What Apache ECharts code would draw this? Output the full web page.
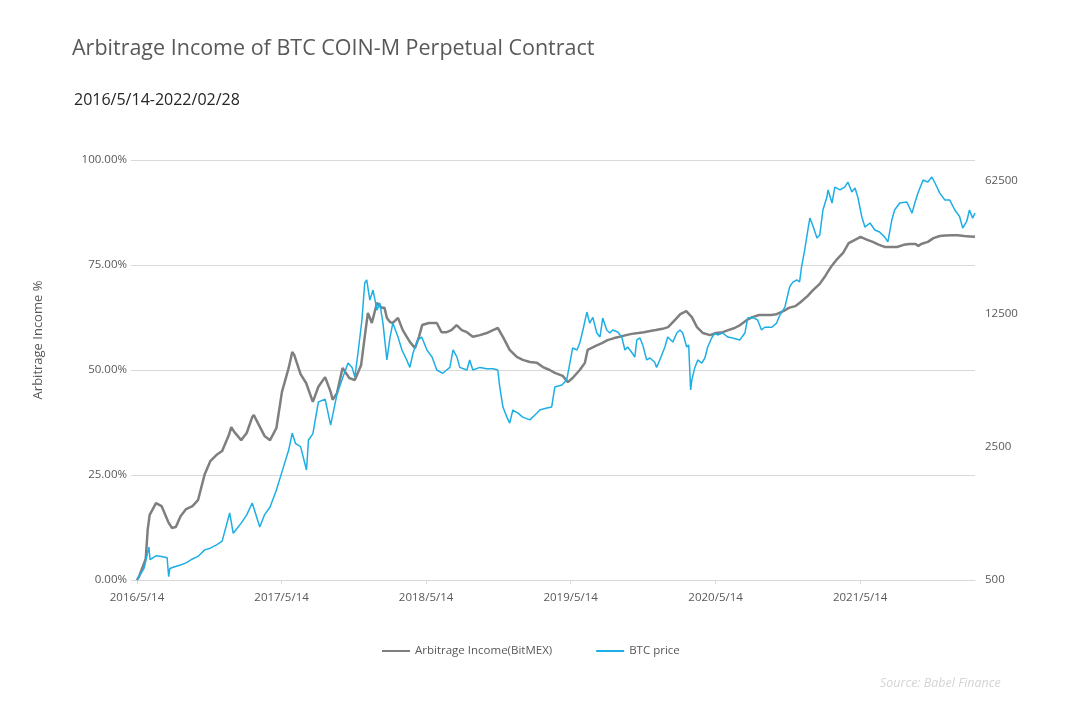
<!DOCTYPE html>
<html>
<head>
<meta charset="utf-8">
<script src="https://cdn.jsdelivr.net/npm/echarts@6/dist/echarts.min.js"></script>
<style>html,body{margin:0;padding:0;background:#fff}#c{width:1065px;height:703px}</style>
</head>
<body>
<div id="c"></div>
<script>
// ---- Data ----
const incomeDates = ['2016-05-14','2016-05-20','2016-06-05','2016-06-10','2016-06-15','2016-07-01','2016-07-15','2016-08-01','2016-08-10','2016-08-20','2016-09-01','2016-09-15','2016-10-01','2016-10-15','2016-11-01','2016-11-15','2016-12-01','2016-12-15','2017-01-01','2017-01-07','2017-01-15','2017-02-01','2017-02-15','2017-03-01','2017-03-05','2017-03-15','2017-04-01','2017-04-15','2017-05-01','2017-05-15','2017-06-01','2017-06-10','2017-06-15','2017-07-01','2017-07-15','2017-08-01','2017-08-15','2017-09-01','2017-09-15','2017-09-20','2017-10-01','2017-10-15','2017-11-01','2017-11-15','2017-12-01','2017-12-10','2017-12-18','2017-12-28','2018-01-10','2018-01-22','2018-01-29','2018-02-04','2018-02-12','2018-02-19','2018-03-04','2018-03-16','2018-04-03','2018-04-16','2018-04-26','2018-05-04','2018-05-21','2018-06-10','2018-06-22','2018-07-05','2018-07-17','2018-07-30','2018-08-12','2018-08-25','2018-09-09','2018-09-27','2018-10-14','2018-10-30','2018-11-11','2018-11-24','2018-12-11','2018-12-29','2019-01-13','2019-01-31','2019-02-18','2019-03-05','2019-03-22','2019-04-04','2019-04-24','2019-05-07','2019-05-19','2019-06-06','2019-06-19','2019-06-26','2019-07-01','2019-07-15','2019-08-01','2019-08-15','2019-09-01','2019-09-15','2019-10-01','2019-10-15','2019-11-01','2019-11-15','2019-12-01','2019-12-15','2020-01-01','2020-01-15','2020-02-01','2020-02-15','2020-03-01','2020-03-05','2020-03-15','2020-03-28','2020-04-12','2020-04-30','2020-05-15','2020-06-01','2020-06-15','2020-07-01','2020-07-15','2020-08-01','2020-08-15','2020-09-01','2020-09-15','2020-10-01','2020-10-15','2020-11-01','2020-11-15','2020-12-01','2020-12-15','2021-01-01','2021-01-15','2021-02-01','2021-02-15','2021-03-01','2021-03-15','2021-04-01','2021-04-15','2021-05-01','2021-05-15','2021-06-01','2021-06-15','2021-07-01','2021-07-15','2021-08-01','2021-08-15','2021-09-01','2021-09-15','2021-10-01','2021-10-08','2021-10-15','2021-11-01','2021-11-15','2021-12-01','2021-12-15','2022-01-01','2022-01-15','2022-02-01','2022-02-15','2022-02-28'];
const incomeValues = [0,1.0,5.0,12.0,15.5,18.3,17.6,13.8,12.4,12.6,15.2,16.9,17.6,19.0,25.2,28.3,29.8,30.7,34.5,36.4,35.2,33.3,35.0,38.8,39.3,37.4,34.3,33.3,36.2,44.8,50.5,54.3,53.6,49.0,46.9,42.4,46.0,48.3,44.8,42.9,44.5,50.5,48.1,47.6,51.2,57.9,63.6,61.2,66.0,64.8,64.8,62.4,61.4,61.2,62.4,59.5,56.7,55.2,57.9,60.7,61.2,61.2,59.0,59.0,59.5,60.7,59.5,59.0,57.9,58.3,58.8,59.5,60.0,57.9,54.8,53.1,52.4,51.9,51.7,50.7,50.0,49.3,48.6,47.1,48.1,50.0,51.7,54.8,55.0,55.7,56.4,57.1,57.6,57.9,58.3,58.6,58.8,59.0,59.3,59.5,59.8,60.2,61.9,63.3,64.0,64.3,62.6,60.2,58.8,58.3,58.8,59.0,59.5,60.0,60.7,61.9,62.6,63.1,63.1,63.1,63.3,64.0,64.8,65.2,66.2,67.6,69.0,70.5,72.4,74.5,76.2,77.9,80.2,81.0,81.7,81.0,80.5,79.8,79.3,79.3,79.3,79.8,80.0,80.0,79.5,80.0,80.5,81.4,81.9,82.0,82.1,82.1,81.9,81.8,81.7];

const priceDates = ['2016-05-14','2016-06-01','2016-06-13','2016-06-16','2016-07-01','2016-07-15','2016-07-29','2016-08-02','2016-08-05','2016-08-15','2016-09-01','2016-09-15','2016-10-01','2016-10-15','2016-11-01','2016-11-15','2016-12-01','2016-12-15','2017-01-03','2017-01-12','2017-02-01','2017-02-15','2017-03-01','2017-03-20','2017-04-01','2017-04-15','2017-05-01','2017-05-15','2017-06-01','2017-06-10','2017-06-18','2017-07-01','2017-07-16','2017-07-21','2017-08-01','2017-08-15','2017-09-01','2017-09-15','2017-10-01','2017-10-16','2017-10-29','2017-11-08','2017-11-15','2017-11-23','2017-12-03','2017-12-10','2017-12-15','2017-12-23','2017-12-31','2018-01-10','2018-01-17','2018-01-25','2018-02-04','2018-02-12','2018-02-19','2018-03-04','2018-03-14','2018-03-26','2018-04-03','2018-04-11','2018-04-23','2018-05-03','2018-05-16','2018-05-29','2018-06-10','2018-06-25','2018-07-13','2018-07-21','2018-07-31','2018-08-07','2018-08-25','2018-09-01','2018-09-09','2018-09-27','2018-10-14','2018-10-30','2018-11-11','2018-11-16','2018-11-24','2018-12-04','2018-12-11','2018-12-19','2019-01-01','2019-01-13','2019-01-31','2019-02-18','2019-02-25','2019-03-15','2019-03-27','2019-04-04','2019-04-09','2019-04-22','2019-05-04','2019-05-12','2019-05-19','2019-05-30','2019-06-06','2019-06-14','2019-06-24','2019-07-01','2019-07-09','2019-07-19','2019-07-27','2019-08-03','2019-08-13','2019-08-21','2019-08-28','2019-09-10','2019-09-20','2019-09-28','2019-10-05','2019-10-15','2019-10-23','2019-10-28','2019-11-05','2019-11-12','2019-11-22','2019-11-30','2019-12-12','2019-12-17','2019-12-25','2020-01-07','2020-01-14','2020-01-27','2020-02-06','2020-02-14','2020-02-21','2020-03-02','2020-03-07','2020-03-12','2020-03-15','2020-03-22','2020-03-30','2020-04-09','2020-04-17','2020-04-24','2020-05-04','2020-05-12','2020-05-19','2020-06-01','2020-06-14','2020-06-26','2020-07-14','2020-07-27','2020-08-03','2020-08-16','2020-08-28','2020-09-07','2020-09-15','2020-09-20','2020-10-03','2020-10-15','2020-10-23','2020-11-05','2020-11-17','2020-11-25','2020-12-05','2020-12-12','2020-12-17','2020-12-25','2021-01-02','2021-01-07','2021-01-14','2021-01-25','2021-02-01','2021-02-09','2021-02-19','2021-02-22','2021-03-04','2021-03-11','2021-03-24','2021-04-05','2021-04-13','2021-04-23','2021-05-01','2021-05-08','2021-05-18','2021-05-26','2021-06-08','2021-06-20','2021-07-02','2021-07-15','2021-07-23','2021-08-02','2021-08-09','2021-08-22','2021-09-09','2021-09-22','2021-09-29','2021-10-07','2021-10-20','2021-11-01','2021-11-11','2021-11-19','2021-12-01','2021-12-14','2021-12-26','2022-01-08','2022-01-20','2022-01-28','2022-02-07','2022-02-14','2022-02-22','2022-02-28'];
const priceValues = [500,578,745,640,670,665,655,520,575,585,600,615,645,665,720,735,765,800,1125,880,995,1100,1270,950,1100,1210,1486,1850,2410,2960,2615,2510,1893,2720,2930,4310,4460,3260,4740,5830,6900,6550,5830,7800,11630,18200,18870,14800,16700,13100,14300,11200,7170,9460,11200,9460,8090,7170,6550,7800,9130,9460,8090,7420,6350,6100,6550,8090,7420,6550,6350,7170,6350,6550,6450,6450,6350,5170,4055,3590,3340,3910,3770,3590,3470,3770,3910,4010,4055,5170,5170,5290,5630,6900,8290,8090,8800,10300,12800,11200,12000,9930,9460,11900,10300,9930,10300,10050,9460,8090,8390,7870,7420,9130,9350,8600,7170,7340,6990,6550,7170,8390,9460,8900,9930,10300,9930,8390,8600,4985,5630,6480,7170,6900,7340,8390,9350,9930,9700,9930,9460,9350,9130,9930,11900,12000,11630,10300,10650,10900,10650,11200,12300,13600,17340,18400,18870,18420,22100,27130,34560,39900,36700,31400,32500,44000,51500,56100,47900,58100,56100,58100,61700,54700,57400,51500,40700,35800,37600,34560,33700,31700,29900,39000,44000,47900,48500,42400,47900,54000,63300,61700,65600,61000,54000,49700,49700,44000,40700,35400,38300,44000,39900,42400];

const xTickDates = ['2016-05-14','2017-05-14','2018-05-14','2019-05-14','2020-05-14','2021-05-14'];
const priceTicks = [500, 2500, 12500, 62500];

// ---- Build ----
const toTs = s => { const p = s.split('-').map(Number); return new Date(p[0], p[1]-1, p[2]).getTime(); };
const incomeData = incomeDates.map((d,i) => [toTs(d), incomeValues[i]]);
const priceData = priceDates.map((d,i) => [toTs(d), priceValues[i]]);
const FONT = '"Open Sans", "Noto Sans", sans-serif';
const lab = '#595959';

const chart = echarts.init(document.getElementById('c'), null, {renderer:'canvas'});
chart.setOption({
  animation: false,
  backgroundColor: '#fff',
  textStyle: {fontFamily: FONT},
  title: [
    {text: 'Arbitrage Income of BTC COIN-M Perpetual Contract', left: 67, top: 33,
     textStyle: {fontSize: 21.5, fontWeight: 'normal', color: '#595959', fontFamily: FONT}},
    {text: '2016/5/14-2022/02/28', left: 69, top: 87,
     textStyle: {fontSize: 16, fontWeight: 'normal', color: '#262626', fontFamily: FONT}},
    {text: 'Source: Babel Finance', left: 875, top: 672,
     textStyle: {fontSize: 12.5, fontWeight: 'normal', fontStyle: 'italic', color: '#d4d4d4', fontFamily: FONT}}
  ],
  legend: {
    left: 377, top: 640, itemGap: 44, itemWidth: 28, itemHeight: 2,
    textStyle: {fontSize: 11.5, color: lab, fontFamily: FONT},
    data: [{name: 'Arbitrage Income(BitMEX)', icon: 'rect'}, {name: 'BTC price', icon: 'rect'}]
  },
  grid: {left: 137, right: 90, top: 160, bottom: 123, containLabel: false},
  xAxis: {
    type: 'value',
    min: toTs('2016-05-14'), max: toTs('2022-02-28'),
    axisLine: {show: true, lineStyle: {color: '#d9d9d9', width: 1}},
    axisTick: {show: true, length: 4, lineStyle: {color: '#d9d9d9'}, customValues: xTickDates.map(toTs)},
    axisLabel: {
      customValues: xTickDates.map(toTs), margin: 12, fontSize: 11.5, color: lab, fontFamily: FONT,
      formatter: v => { const d = new Date(v); return d.getFullYear() + '/' + (d.getMonth()+1) + '/' + d.getDate(); }
    },
    splitLine: {show: false}
  },
  yAxis: [
    {
      type: 'value', min: 0, max: 100, interval: 25, position: 'left',
      name: 'Arbitrage Income %', nameLocation: 'middle', nameGap: 92, nameRotate: 90,
      nameTextStyle: {fontSize: 13, color: lab, fontFamily: FONT, padding: [0, 0, 0, 60]},
      axisLine: {show: false},
      axisTick: {show: true, length: 6, lineStyle: {color: '#d9d9d9'}},
      axisLabel: {formatter: v => v.toFixed(2) + '%', fontSize: 11.5, color: lab, margin: 10, fontFamily: FONT},
      splitLine: {show: true, lineStyle: {color: '#d9d9d9', width: 1}}
    },
    {
      type: 'log', logBase: 5, min: 500, max: 80600, position: 'right',
      axisLine: {show: false},
      axisTick: {show: false},
      axisLabel: {customValues: priceTicks, fontSize: 11.5, color: lab, margin: 10, fontFamily: FONT,
                  formatter: v => String(Math.round(v))},
      splitLine: {show: false}
    }
  ],
  series: [
    {name: 'Arbitrage Income(BitMEX)', type: 'line', yAxisIndex: 0, data: incomeData, showSymbol: false,
     lineStyle: {color: '#7f7f7f', width: 2.5}, itemStyle: {color: '#7f7f7f'}},
    {name: 'BTC price', type: 'line', yAxisIndex: 1, data: priceData, showSymbol: false,
     lineStyle: {color: '#1eaee6', width: 1.5}, itemStyle: {color: '#1eaee6'}}
  ]
});
</script>
</body>
</html>
